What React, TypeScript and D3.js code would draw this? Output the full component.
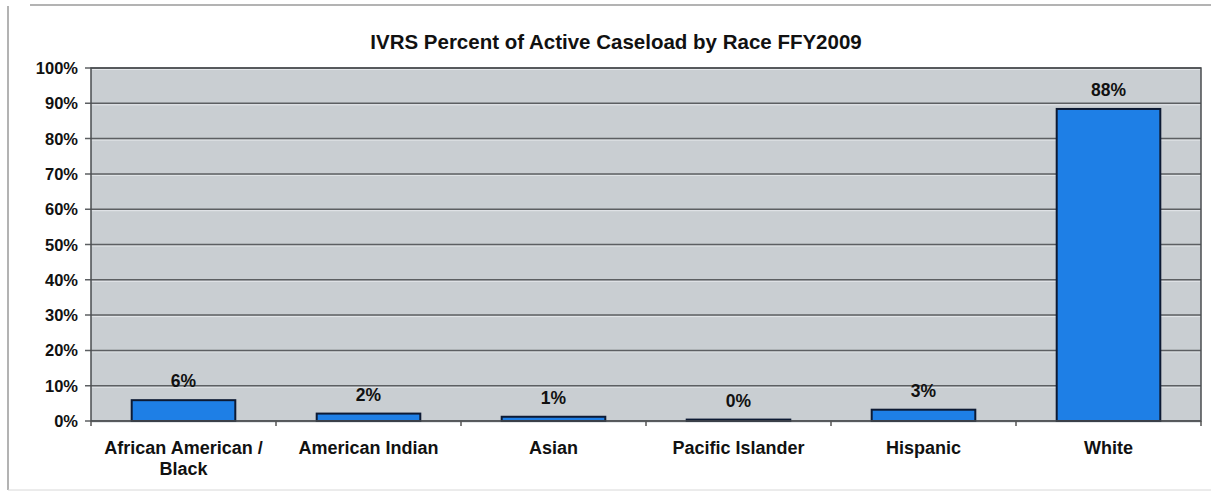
import React from "react";
import * as d3 from "d3";

const categories: string[][] = [
  ["African American /", "Black"],
  ["American Indian"],
  ["Asian"],
  ["Pacific Islander"],
  ["Hispanic"],
  ["White"],
];
const values: number[] = [5.9, 2.1, 1.2, 0.4, 3.2, 88.4];
const valueLabels: string[] = ["6%", "2%", "1%", "0%", "3%", "88%"];
const yTicks: number[] = [0, 10, 20, 30, 40, 50, 60, 70, 80, 90, 100];
const title = "IVRS Percent of Active Caseload by Race FFY2009";

const W = 1211;
const H = 493;
const left = 91;
const right = 1201;
const top = 68;
const bottom = 421;
const font = "'Liberation Sans', Arial, sans-serif";

export default function App() {
  const idx = categories.map((_, i) => String(i));
  const x = d3.scaleBand<string>().domain(idx).range([left, right]).paddingInner(0.44).paddingOuter(0.22);
  const xOuter = d3.scaleBand<string>().domain(idx).range([left, right]);
  const y = d3.scaleLinear().domain([0, 100]).range([bottom, top]);

  return (
    <svg
      width={W}
      height={H}
      style={{ position: "absolute", left: 0, top: 0, background: "#fff" }}
    >
      {/* outer frame */}
      <line x1={30} x2={W} y1={5} y2={5} stroke="#9a9a9a" strokeWidth={1.5} />
      <line x1={8} x2={8} y1={6} y2={490} stroke="#9a9a9a" strokeWidth={1.5} />
      <line x1={8} x2={W} y1={490} y2={490} stroke="#d8d8d8" strokeWidth={1} />

      <text
        x={616}
        y={49}
        textAnchor="middle"
        fontFamily={font}
        fontWeight="bold"
        fontSize={20.5}
        fill="#111"
      >
        {title}
      </text>

      {/* plot background */}
      <rect x={left} y={top} width={right - left} height={bottom - top} fill="#c9ced2" />

      {/* gridlines */}
      {yTicks.map((t) => (
        <g key={t}>
          <line x1={left} x2={right} y1={y(t) + 1.5} y2={y(t) + 1.5} stroke="#e4e7ea" strokeWidth={1} />
          <line x1={left - 6} x2={right} y1={y(t)} y2={y(t)} stroke="#5c5f62" strokeWidth={1.5} />
          <text
            x={78}
            y={y(t) + 6}
            textAnchor="end"
            fontFamily={font}
            fontWeight="bold"
            fontSize={16.5}
            fill="#111"
          >
            {t}%
          </text>
        </g>
      ))}

      {/* bars */}
      {values.map((v, i) => (
        <rect
          key={i}
          x={x(String(i))!}
          y={y(v)}
          width={x.bandwidth()}
          height={Math.max(bottom - y(v), 1)}
          fill="#1e7fe6"
          stroke="#0d1a33"
          strokeWidth={2}
        />
      ))}

      {/* plot border */}
      <rect x={left} y={top} width={right - left} height={bottom - top} fill="none" stroke="#4a4d50" strokeWidth={1.5} />

      {/* x ticks */}
      {idx.map((k) => (
        <line
          key={k}
          x1={xOuter(k)!}
          x2={xOuter(k)!}
          y1={bottom}
          y2={bottom + 5}
          stroke="#555"
          strokeWidth={1.5}
        />
      ))}
      <line x1={right} x2={right} y1={bottom} y2={bottom + 5} stroke="#555" strokeWidth={1.5} />

      {/* value labels */}
      {values.map((v, i) => (
        <text
          key={i}
          x={x(String(i))! + x.bandwidth() / 2}
          y={y(v) - 13}
          textAnchor="middle"
          fontFamily={font}
          fontWeight="bold"
          fontSize={17.5}
          fill="#111"
        >
          {valueLabels[i]}
        </text>
      ))}

      {/* category labels */}
      {categories.map((lines, i) => (
        <text
          key={i}
          x={xOuter(String(i))! + xOuter.bandwidth() / 2}
          y={454}
          textAnchor="middle"
          fontFamily={font}
          fontWeight="bold"
          fontSize={18}
          fill="#111"
        >
          {lines.map((l, j) => (
            <tspan key={j} x={xOuter(String(i))! + xOuter.bandwidth() / 2} dy={j === 0 ? 0 : 21}>
              {l}
            </tspan>
          ))}
        </text>
      ))}
    </svg>
  );
}
